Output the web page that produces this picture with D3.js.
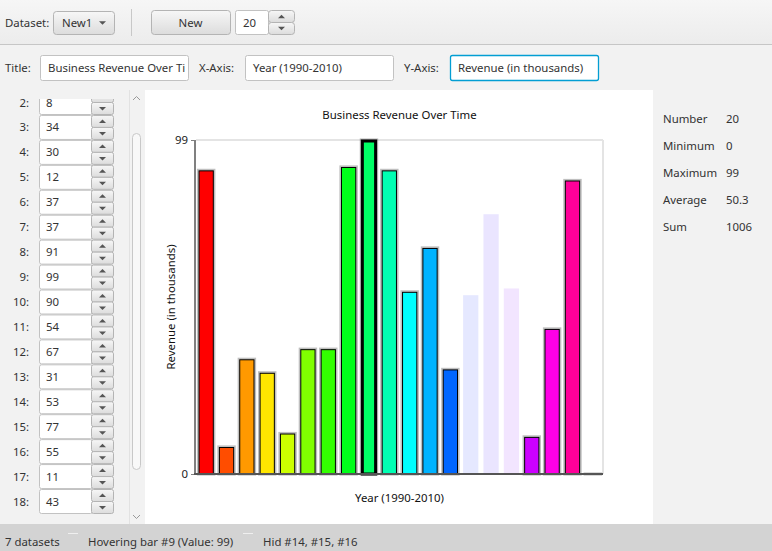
<!DOCTYPE html>
<html><head><meta charset="utf-8">
<script src="https://cdn.jsdelivr.net/npm/d3@7/dist/d3.min.js"></script>
<style>
html,body{margin:0;padding:0;background:#f2f2f2;overflow:hidden}
svg{display:block;font-family:"Noto Sans","Open Sans",sans-serif}
</style></head><body>
<svg id="app" width="772" height="551"></svg>
<script>
// ---- data ----
const barIds = [1,2,3,4,5,6,7,8,9,10,11,12,13,14,15,16,17,18,19,20];
const values = [90,8,34,30,12,37,37,91,99,90,54,67,31,53,77,55,11,43,87,0];
const hiddenBars = [14,15,16];
const hoveredBar = 9;
const chartTitle = "Business Revenue Over Time";
const xAxisTitle = "Year (1990-2010)";
const yAxisTitle = "Revenue (in thousands)";
const datasetName = "New1";
const datasetCount = 7;

const svg = d3.select("#app");
const FONT = 11.4;

// ---- backgrounds ----
const defs = svg.append("defs");
const g1 = defs.append("linearGradient").attr("id","tb").attr("x1",0).attr("x2",0).attr("y1",0).attr("y2",1);
g1.append("stop").attr("offset",0).attr("stop-color","#f6f6f6");
g1.append("stop").attr("offset",1).attr("stop-color","#ececec");
const g2 = defs.append("linearGradient").attr("id","btn").attr("x1",0).attr("x2",0).attr("y1",0).attr("y2",1);
g2.append("stop").attr("offset",0).attr("stop-color","#f7f7f7");
g2.append("stop").attr("offset",1).attr("stop-color","#dcdcdc");

svg.append("rect").attr("x",0).attr("y",0).attr("width",772).attr("height",44).attr("fill","url(#tb)");
svg.append("line").attr("x1",0).attr("x2",772).attr("y1",44.5).attr("y2",44.5).attr("stroke","#c6c6c6");
svg.append("rect").attr("x",0).attr("y",45).attr("width",772).attr("height",45).attr("fill","#f2f2f2");

function text(x,y,t,opts={}){
  return svg.append("text").attr("x",x).attr("y",y).attr("font-size",opts.size||FONT)
    .attr("fill",opts.fill||"#333").attr("text-anchor",opts.anchor||"start")
    .attr("dominant-baseline","central").text(t);
}
function button(x,y,w,h,label){
  svg.append("rect").attr("x",x+.5).attr("y",y+.5).attr("width",w).attr("height",h).attr("rx",3)
    .attr("fill","url(#btn)").attr("stroke","#b4b4b4");
  if(label) text(x+w/2,y+h/2,label,{anchor:"middle"});
}
function field(x,y,w,h,label,focused){
  svg.append("rect").attr("x",x+.5).attr("y",y+.5).attr("width",w).attr("height",h).attr("rx",2)
    .attr("fill","#fff").attr("stroke",focused?"#039ed3":"#c2c2c2").attr("stroke-width",focused?1.3:1);
  const t = text(x+8,y+h/2,label);
  // the field shows only what fits inside it
  let s = label;
  while(s.length > 1 && t.node().getComputedTextLength() > w-10){
    s = s.slice(0,-1);
    t.text(s);
  }
}
function arrowUp(cx,cy,s,fill){
  svg.append("path").attr("d",`M${cx-s},${cy+s/2}L${cx+s},${cy+s/2}L${cx},${cy-s/2}Z`).attr("fill",fill||"#555");
}
function arrowDown(cx,cy,s,fill){
  svg.append("path").attr("d",`M${cx-s},${cy-s/2}L${cx+s},${cy-s/2}L${cx},${cy+s/2}Z`).attr("fill",fill||"#555");
}
function spinBtns(x,y,w,h){
  button(x,y,w,h/2);
  button(x,y+h/2,w,h/2);
  arrowUp(x+w/2+.5,y+h/4+.5,3.5);
  arrowDown(x+w/2+.5,y+3*h/4+.5,3.5);
}

// ---- toolbar row 1 ----
text(5,22,"Dataset:");
button(53,11,61,23);
text(62,22.5,datasetName);
arrowDown(102.5,23,3.5);
svg.append("line").attr("x1",131.5).attr("x2",131.5).attr("y1",9).attr("y2",36).attr("stroke","#c8c8c8");
button(151,10,79,24,"New");
field(235,10,33,24,String(values.length));
spinBtns(268,10,26,24);

// ---- toolbar row 2 ----
text(5,67.5,"Title:");
field(40,55,148,25,chartTitle);
text(199,67.5,"X-Axis:");
field(245,55,148,25,xAxisTitle);
text(404,67.5,"Y-Axis:");
field(450,55,148,25,yAxisTitle,true);

// ---- left list ----
svg.append("rect").attr("x",0).attr("y",90).attr("width",145).attr("height",434).attr("fill","#f2f2f2");
defs.append("clipPath").attr("id","listclip").append("rect").attr("x",0).attr("y",99).attr("width",129).attr("height",415);
const list = svg.append("g").attr("clip-path","url(#listclip)");
const rowY = d3.scaleLinear().domain([2,18]).range([102,501]);
barIds.forEach((id,i)=>{
  const cy = rowY(id);
  if(cy < 80 || cy > 512) return;
  const g = list.append("g");
  g.append("text").attr("x",29).attr("y",cy).attr("text-anchor","end").attr("dominant-baseline","central")
    .attr("font-size",FONT).attr("fill","#333").text(id+":");
  const y0 = cy-12;
  g.append("rect").attr("x",39.5).attr("y",y0+.5).attr("width",53).attr("height",24).attr("rx",2)
    .attr("fill","#fff").attr("stroke","#c2c2c2");
  g.append("text").attr("x",46).attr("y",cy).attr("dominant-baseline","central")
    .attr("font-size",FONT).attr("fill","#333").text(values[i]);
  [0,1].forEach(k=>{
    g.append("rect").attr("x",91.5).attr("y",y0+.5+k*12).attr("width",22).attr("height",12).attr("rx",2)
      .attr("fill","url(#btn)").attr("stroke","#b4b4b4");
  });
  const cx = 102.5;
  g.append("path").attr("d",`M${cx-3.5},${y0+8}L${cx+3.5},${y0+8}L${cx},${y0+4.5}Z`).attr("fill","#555");
  g.append("path").attr("d",`M${cx-3.5},${y0+17}L${cx+3.5},${y0+17}L${cx},${y0+20.5}Z`).attr("fill","#555");
});
// scrollbar
svg.append("rect").attr("x",129).attr("y",90).attr("width",16).attr("height",434).attr("fill","#f2f2f2");
svg.append("line").attr("x1",129.5).attr("x2",129.5).attr("y1",90).attr("y2",524).attr("stroke","#e2e2e2");
svg.append("path").attr("d","M133,100L136.5,96.5L140,100").attr("fill","none").attr("stroke","#999").attr("stroke-width",1);
svg.append("path").attr("d","M133,515L136.5,518.5L140,515").attr("fill","none").attr("stroke","#999").attr("stroke-width",1);
svg.append("rect").attr("x",132.5).attr("y",133.5).attr("width",8).attr("height",336).attr("rx",4)
  .attr("fill","#f8f8f8").attr("stroke","#c8c8c8");

// ---- chart area ----
svg.append("rect").attr("x",145).attr("y",90).attr("width",508).attr("height",434).attr("fill","#fff");

const plot = {left:196, right:603, top:140, bottom:474};
const x = d3.scaleBand().domain(barIds).range([plot.left, plot.right]).paddingInner(0.25).paddingOuter(0.125);
const yMax = d3.max(values);
const y = d3.scaleLinear().domain([0, yMax]).range([plot.bottom, plot.top]);

svg.append("text").attr("x",(plot.left+plot.right)/2).attr("y",114.5).attr("text-anchor","middle")
  .attr("dominant-baseline","central").attr("font-size",FONT).attr("fill","#111").text(chartTitle);

// frame: top grid & right border
svg.append("line").attr("x1",plot.left).attr("x2",plot.right).attr("y1",y(yMax)).attr("y2",y(yMax)).attr("stroke","#e4e4e4").attr("stroke-width",2);
svg.append("line").attr("x1",plot.right).attr("x2",plot.right).attr("y1",plot.top).attr("y2",plot.bottom).attr("stroke","#e4e4e4").attr("stroke-width",2);

const colorOf = i => d3.hsl(i*360/barIds.length, 1, 0.5).formatHex();

const bars = svg.append("g");
barIds.forEach((id,i)=>{
  const v = values[i];
  const bx = x(id), bw = x.bandwidth();
  const by = y(v), bh = y(0)-y(v);
  const hidden = hiddenBars.includes(id);
  if(hidden){
    bars.append("rect").attr("x",bx).attr("y",by).attr("width",bw).attr("height",bh)
      .attr("fill",colorOf(i)).attr("fill-opacity",0.1);
    return;
  }
  // soft shadow
  bars.append("rect").attr("x",bx-0.5).attr("y",by-0.5).attr("width",bw+1).attr("height",bh+1)
    .attr("fill","none").attr("stroke","rgba(0,0,0,0.25)").attr("stroke-width",2.2);
  const hov = id===hoveredBar;
  bars.append("rect").attr("x",bx+(hov?1:0.5)).attr("y",by+(hov?1:0.5)).attr("width",bw-(hov?2:1)).attr("height",Math.max(0,bh-(hov?1:0.5)))
    .attr("fill",colorOf(i)).attr("stroke","#000").attr("stroke-width",hov?3:1);
});

// axes
const yAxis = d3.axisLeft(y).tickValues([0,yMax]).tickSize(4).tickPadding(3);
const ya = svg.append("g").attr("transform",`translate(${plot.left-1},0)`).call(yAxis);
ya.select(".domain").attr("stroke","#808080").attr("stroke-width",2).attr("d",`M0,${plot.top}V${plot.bottom}`);
ya.selectAll(".tick line").attr("stroke","#808080");
ya.selectAll(".tick text").attr("font-size",FONT).attr("fill","#222").attr("font-family","Noto Sans, sans-serif");

const xAxis = d3.axisBottom(x).tickSize(0).tickFormat("");
const xa = svg.append("g").attr("transform",`translate(0,${plot.bottom})`).call(xAxis);
xa.select(".domain").attr("stroke","#555").attr("stroke-width",2).attr("d",`M${plot.left-2},0H${plot.right}`);

svg.append("text").attr("x",(plot.left+plot.right)/2).attr("y",497.5).attr("text-anchor","middle")
  .attr("dominant-baseline","central").attr("font-size",FONT).attr("fill","#111").text(xAxisTitle);
svg.append("text").attr("transform",`translate(170,${(plot.top+plot.bottom)/2}) rotate(-90)`).attr("text-anchor","middle")
  .attr("dominant-baseline","central").attr("font-size",FONT).attr("fill","#111").text(yAxisTitle);

// ---- stats panel ----
const statLabels = ["Number","Minimum","Maximum","Average","Sum"];
const statValues = [values.length, d3.min(values), d3.max(values), d3.format(".1f")(d3.mean(values)), d3.sum(values)];
statLabels.forEach((l,i)=>{
  text(663,118.5+i*27,l);
  text(726,118.5+i*27,String(statValues[i]));
});

// ---- status bar ----
svg.append("rect").attr("x",0).attr("y",524).attr("width",772).attr("height",27).attr("fill","#d3d3d3");
text(5,541.5,`${datasetCount} datasets`);
svg.append("line").attr("x1",68).attr("x2",78).attr("y1",533.5).attr("y2",533.5).attr("stroke","#efefef");
text(88,541.5,`Hovering bar #${hoveredBar} (Value: ${values[hoveredBar-1]})`);
svg.append("line").attr("x1",243).attr("x2",253).attr("y1",533.5).attr("y2",533.5).attr("stroke","#efefef");
text(263,541.5,"Hid " + hiddenBars.map(d=>"#"+d).join(", "));
</script>
</body></html>
